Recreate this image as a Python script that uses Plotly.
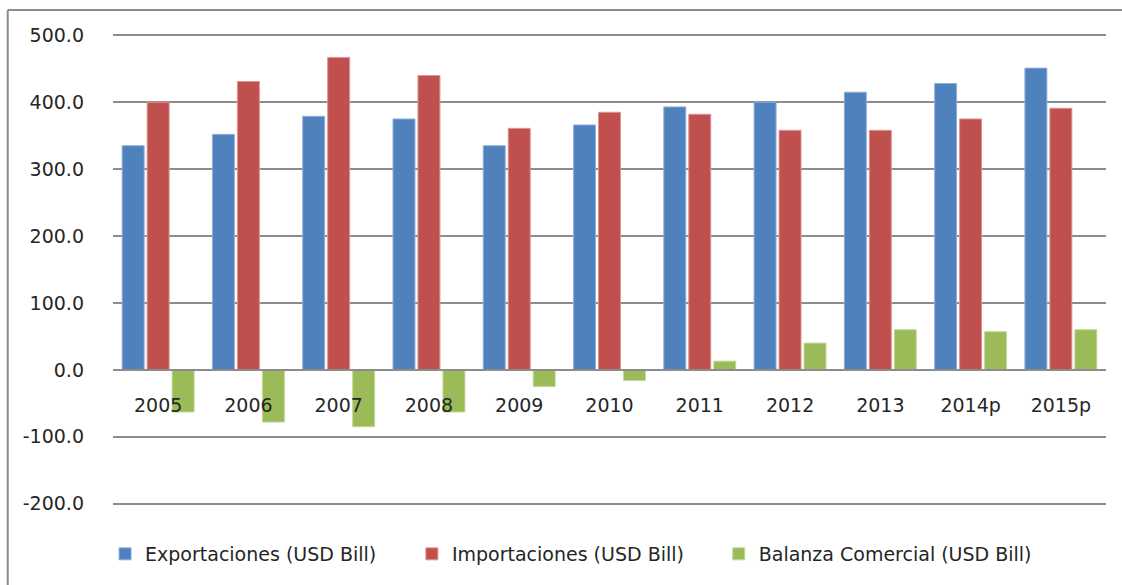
import plotly.graph_objects as go

years = ["2005", "2006", "2007", "2008", "2009", "2010", "2011", "2012", "2013", "2014p", "2015p"]
exportaciones = [335, 352, 379, 375, 335, 366, 393, 400, 415, 428, 451]
importaciones = [400, 431, 467, 440, 361, 385, 382, 358, 358, 375, 391]
balanza = [-63, -78, -85, -63, -25, -16, 13, 40, 60, 57, 60]

y_ticks = [-200, -100, 0, 100, 200, 300, 400, 500]
y_tick_labels = ["-200.0", "-100.0", "0.0", "100.0", "200.0", "300.0", "400.0", "500.0"]

fig = go.Figure()
fig.add_trace(go.Bar(x=years, y=exportaciones, name="Exportaciones (USD Bill)", legend="legend",
                     marker=dict(color="#4F81BD", line=dict(color="#8FB0DC", width=1))))
fig.add_trace(go.Bar(x=years, y=importaciones, name="Importaciones (USD Bill)", legend="legend2",
                     marker=dict(color="#C0504D", line=dict(color="#E09492", width=1))))
fig.add_trace(go.Bar(x=years, y=balanza, name="Balanza Comercial (USD Bill)", legend="legend3",
                     marker=dict(color="#9BBB59", line=dict(color="#C3D89A", width=1))))

font_family = "DejaVu Sans, sans-serif"


def legend_at(xpos):
    return dict(orientation="h", x=xpos, xanchor="left", y=-0.104, yanchor="middle",
                font=dict(size=19, color="#262626"), itemwidth=30,
                bgcolor="rgba(0,0,0,0)")


fig.update_layout(
    width=1122, height=585,
    margin=dict(l=113, r=16, t=34, b=80),
    paper_bgcolor="white", plot_bgcolor="white",
    barmode="group", bargap=0.17, bargroupgap=0.12,
    font=dict(family=font_family, size=19, color="#262626"),
    showlegend=True,
    legend=legend_at(-0.008),
    legend2=legend_at(0.301),
    legend3=legend_at(0.610),
    xaxis=dict(type="category", anchor="free", position=202/704,
               showline=True, linecolor="#8C8C8C", linewidth=2,
               showgrid=False, ticks="", ticklabelstandoff=18,
               tickfont=dict(size=19, color="#262626")),
    yaxis=dict(range=[-202, 502], tickvals=y_ticks, ticktext=y_tick_labels,
               showgrid=True, gridcolor="#8C8C8C", gridwidth=1.5,
               zeroline=False, showline=False, ticks="", ticklabelstandoff=28,
               tickfont=dict(size=19, color="#262626")),
    shapes=[
        dict(type="line", xref="paper", yref="paper", x0=-0.106, x1=1.02, y0=1.051, y1=1.051,
             line=dict(color="#8C8C8C", width=2)),
        dict(type="line", xref="paper", yref="paper", x0=-0.106, x1=-0.106, y0=1.051, y1=-0.18,
             line=dict(color="#8C8C8C", width=2)),
    ],
)

fig.write_html("out.html", config={"displayModeBar": False},
               post_script="document.body.style.margin='0';document.body.style.padding='0';")
